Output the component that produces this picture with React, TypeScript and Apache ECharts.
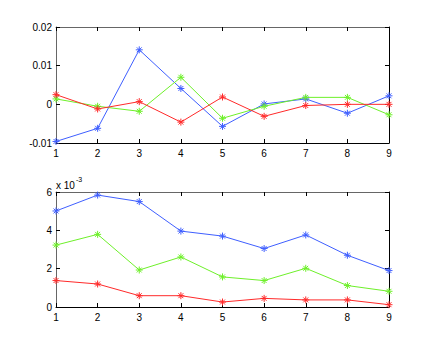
import React, { useEffect, useRef } from "react";
import * as echarts from "echarts";

const xValues = [1, 2, 3, 4, 5, 6, 7, 8, 9];
const xTicks = ["1", "2", "3", "4", "5", "6", "7", "8", "9"];

// top panel
const topBlue = [-0.0096, -0.0062, 0.0141, 0.0041, -0.0057, 0.0001, 0.0014, -0.0023, 0.0022];
const topGreen = [0.0014, -0.0005, -0.0018, 0.007, -0.0036, -0.0005, 0.0018, 0.0018, -0.0027];
const topRed = [0.0025, -0.0012, 0.0007, -0.0046, 0.0019, -0.0031, -0.0003, 0.0, 0.0];
const topYTicks = ["-0.01", "0", "0.01", "0.02"];

// bottom panel (units of 1e-3)
const botBlue = [5.01, 5.84, 5.5, 3.96, 3.7, 3.05, 3.76, 2.7, 1.9];
const botGreen = [3.23, 3.79, 1.93, 2.61, 1.57, 1.38, 2.02, 1.12, 0.82];
const botRed = [1.38, 1.2, 0.59, 0.59, 0.26, 0.45, 0.37, 0.37, 0.12];
const botYTicks = ["0", "2", "4", "6"];

const BLUE = "#3f5fff";
const GREEN = "#6ef02a";
const RED = "#ff2a2a";

const STAR = "path://M0,-1L0,1M-1,0L1,0M-0.7,-0.7L0.7,0.7M-0.7,0.7L0.7,-0.7";
const FONT = "Liberation Sans";

function pairs(vals: number[]) {
  return xValues.map((x, i) => [x, vals[i]]);
}

function series(vals: number[], color: string, idx: number) {
  return {
    type: "line",
    xAxisIndex: idx,
    yAxisIndex: idx,
    data: pairs(vals),
    symbol: STAR,
    symbolSize: 7,
    lineStyle: { color, width: 1 },
    itemStyle: { color, borderColor: color, borderWidth: 1 },
    emphasis: { disabled: true },
  };
}

export default function App() {
  const ref = useRef<HTMLDivElement>(null);
  useEffect(() => {
    if (!ref.current) return;
    const chart = echarts.init(ref.current, undefined, { renderer: "svg" });
    const tickLabel = { fontFamily: FONT, fontSize: 10, color: "#000" };
    const mkX = (gridIndex: number, position: "bottom" | "top", show: boolean, lineColor: string) => ({
      type: "value",
      gridIndex,
      position,
      min: 1,
      max: 9,
      interval: 1,
      axisLine: { show: true, onZero: false, lineStyle: { color: lineColor, width: 1 } },
      axisTick: { show: true, inside: true, length: 4, lineStyle: { color: "#000" } },
      axisLabel: {
        show,
        ...tickLabel,
        margin: 5,
        formatter: (v: number) => xTicks[Math.round(v) - 1] ?? "",
      },
      splitLine: { show: false },
    });
    const mkY = (
      gridIndex: number,
      position: "left" | "right",
      show: boolean,
      min: number,
      max: number,
      interval: number,
      labels: string[],
      lineColor: string
    ) => ({
      type: "value",
      gridIndex,
      position,
      min,
      max,
      interval,
      axisLine: { show: true, onZero: false, lineStyle: { color: lineColor, width: 1 } },
      axisTick: { show: true, inside: true, length: 4, lineStyle: { color: "#000" } },
      axisLabel: {
        show,
        ...tickLabel,
        margin: 4,
        formatter: (v: number) => labels[Math.round((v - min) / interval)] ?? "",
      },
      splitLine: { show: false },
    });
    chart.setOption({
      animation: false,
      backgroundColor: "#fff",
      grid: [
        { left: 56, right: 40, top: 27, height: 116 },
        { left: 56, right: 40, top: 192, height: 115 },
      ],
      xAxis: [
        mkX(0, "bottom", true, "#000"),
        mkX(1, "bottom", true, "#000"),
        mkX(0, "top", false, "#666"),
        mkX(1, "top", false, "#666"),
      ],
      yAxis: [
        mkY(0, "left", true, -0.01, 0.02, 0.01, topYTicks, "#666"),
        mkY(1, "left", true, 0, 6, 2, botYTicks, "#666"),
        mkY(0, "right", false, -0.01, 0.02, 0.01, topYTicks, "#000"),
        mkY(1, "right", false, 0, 6, 2, botYTicks, "#000"),
      ],
      series: [
        series(topBlue, BLUE, 0),
        series(topGreen, GREEN, 0),
        series(topRed, RED, 0),
        series(botBlue, BLUE, 1),
        series(botGreen, GREEN, 1),
        series(botRed, RED, 1),
      ],
      graphic: [
        {
          type: "text",
          left: 56,
          top: 176,
          style: {
            text: "{a|x 10}{b|-3}",
            rich: {
              a: { fontFamily: FONT, fontSize: 10, fill: "#000", verticalAlign: "bottom", lineHeight: 14 },
              b: { fontFamily: FONT, fontSize: 7, fill: "#000", verticalAlign: "top", lineHeight: 14, padding: [0, 0, 6, 1] },
            },
          },
        },
      ],
    });
    return () => chart.dispose();
  }, []);
  return <div ref={ref} style={{ width: 429, height: 346, position: "absolute", left: 0, top: 0 }} />;
}
